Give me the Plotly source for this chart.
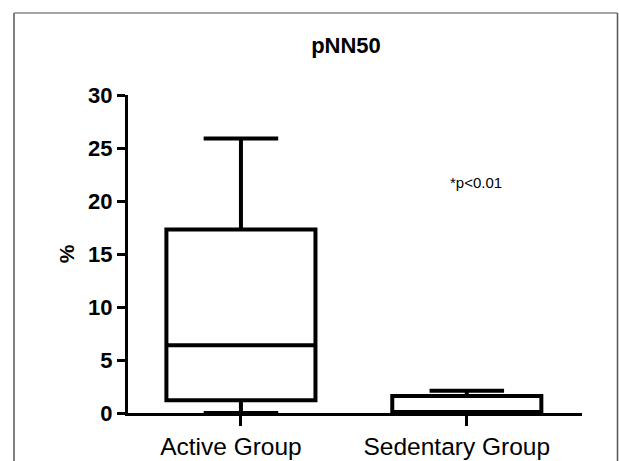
import plotly.graph_objects as go

categories = ["Active Group", "Sedentary Group"]
lower_fence = [0.0, 0.0]
q1_values = [1.2, 0.0]
median_values = [6.4, 0.0]
q3_values = [17.3, 1.6]
upper_fence = [25.9, 2.1]
y_ticks = [0, 5, 10, 15, 20, 25, 30]

FONT = "Liberation Sans, Arial, sans-serif"

fig = go.Figure()
fig.add_trace(go.Box(
    x=categories,
    q1=q1_values,
    median=median_values,
    q3=q3_values,
    lowerfence=lower_fence,
    upperfence=upper_fence,
    width=0.66,
    whiskerwidth=0.5,
    fillcolor="white",
    line=dict(color="black", width=4),
    boxpoints=False,
    showlegend=False,
    hoverinfo="skip",
))

W, H = 619, 461
L, R, T, B = 128, 37, 95, 48
pw, ph = W - L - R, H - T - B

def px2paper_x(px):
    return (px - L) / pw

def px2paper_y(py):
    return (H - B - py) / ph

border = dict(color="#555555", width=1.5)
fig.add_shape(type="line", xref="paper", yref="paper",
              x0=px2paper_x(14), x1=px2paper_x(14), y0=px2paper_y(13), y1=px2paper_y(470), line=border)
fig.add_shape(type="line", xref="paper", yref="paper",
              x0=px2paper_x(14), x1=px2paper_x(617.5), y0=px2paper_y(13), y1=px2paper_y(13), line=dict(color="#888888", width=1.5))
fig.add_shape(type="line", xref="paper", yref="paper",
              x0=px2paper_x(617.5), x1=px2paper_x(617.5), y0=px2paper_y(13), y1=px2paper_y(470), line=border)

fig.add_annotation(x=1.04, y=21.7, xref="x", yref="y", text="*p<0.01", showarrow=False,
                   font=dict(family=FONT, size=15, color="black"))

fig.update_layout(
    width=W, height=H,
    margin=dict(l=L, r=R, t=T, b=B),
    paper_bgcolor="white", plot_bgcolor="white",
    title=dict(text="pNN50", x=px2paper_x(346), xref="paper", xanchor="center",
               y=1 - 45 / H, yref="container", yanchor="middle", automargin=False,
               font=dict(family=FONT, size=22, color="black", weight="bold")),
    xaxis=dict(range=[-0.5, 1.51], showline=True, linecolor="black", linewidth=3,
               ticks="outside", ticklen=10, tickwidth=3, tickcolor="black",
               showgrid=False, zeroline=False, ticklabelshift=-10, automargin=False,
               tickfont=dict(family=FONT, size=24.5, color="black")),
    yaxis=dict(range=[0, 30], tickvals=y_ticks, showline=True, linecolor="black", linewidth=3,
               ticks="outside", ticklen=8, tickwidth=3, tickcolor="black",
               showgrid=False, zeroline=False, automargin=False,
               tickfont=dict(family=FONT, size=22, color="black", weight="bold"),
               title=dict(text="%", standoff=8,
                          font=dict(family=FONT, size=21, color="black", weight="bold"))),
)

fig.write_html("out.html", config={"displayModeBar": False},
               post_script="document.body.style.margin='0';")
